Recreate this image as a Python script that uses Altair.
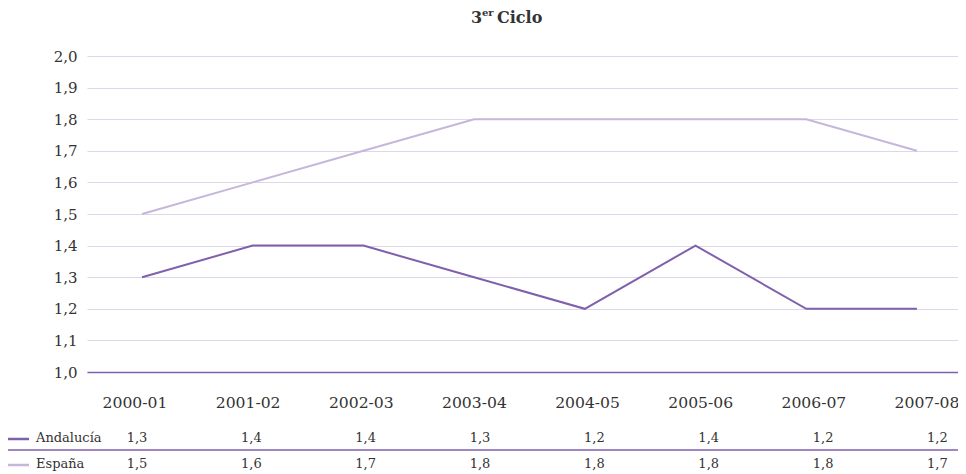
import altair as alt
import pandas as pd

periods = ["2000-01", "2001-02", "2002-03", "2003-04", "2004-05", "2005-06", "2006-07", "2007-08"]
andalucia = [1.3, 1.4, 1.4, 1.3, 1.2, 1.4, 1.2, 1.2]
espana = [1.5, 1.6, 1.7, 1.8, 1.8, 1.8, 1.8, 1.7]
series = ["Andalucía", "España"]
colors = ["#7f60ad", "#c5b7db"]
y_ticks = [1.0, 1.1, 1.2, 1.3, 1.4, 1.5, 1.6, 1.7, 1.8, 1.9, 2.0]

rows = []
for name, vals in zip(series, [andalucia, espana]):
    for i, (p, v) in enumerate(zip(periods, vals)):
        rows.append({"idx": i, "periodo": p, "serie": name, "valor": v,
                     "etiqueta": f"{v:.1f}".replace(".", ",")})
df = pd.DataFrame(rows)
per_df = pd.DataFrame({"idx": list(range(len(periods))), "periodo": periods})

FONT = "DejaVu Serif"
TXT = "#333333"
W, H = 871, 316

# three slightly different horizontal grids, as in the reference
line_scale = alt.Scale(domain=[-0.497, 7.371], nice=False, zero=False)
label_scale = alt.Scale(domain=[-0.424, 7.274], nice=False, zero=False)
table_scale = alt.Scale(domain=[-0.437, 7.18], nice=False, zero=False)
yscale = alt.Scale(domain=[1.0, 2.0], nice=False, zero=False)

base = alt.Chart(df)

lines = base.mark_line(strokeWidth=2).encode(
    x=alt.X("idx:Q", scale=line_scale,
            axis=alt.Axis(values=list(range(len(periods))), labels=False,
                          grid=False, ticks=False, domain=True,
                          domainColor="#7f60ad", domainWidth=1.5, title=None)),
    y=alt.Y("valor:Q", scale=yscale,
            axis=alt.Axis(values=y_ticks,
                          labelExpr="replace(format(datum.value, '.1f'), '.', ',')",
                          grid=True, gridColor="#ddd7ea", gridWidth=1.2,
                          ticks=False, domain=False,
                          labelFont=FONT, labelFontSize=15, labelColor=TXT,
                          labelPadding=10, title=None)),
    color=alt.Color("serie:N", scale=alt.Scale(domain=series, range=colors), legend=None),
    detail="serie:N",
)

xlabels = alt.Chart(per_df).mark_text(
    font=FONT, fontSize=15.6, color=TXT, baseline="middle").encode(
    x=alt.X("idx:Q", scale=label_scale, axis=None),
    y=alt.value(H + 31), text="periodo:N")

row_y = {"Andalucía": 382, "España": 408}

table_layers = []
for name, col in zip(series, colors):
    y = row_y[name]
    txt = base.transform_filter(alt.datum.serie == name).mark_text(
        font=FONT, fontSize=13, color=TXT, baseline="middle").encode(
        x=alt.X("idx:Q", scale=table_scale, axis=None), y=alt.value(y), text="etiqueta:N")
    sw = alt.Chart(pd.DataFrame({"serie": [name]})).mark_rule(
        color=col, strokeWidth=2.5).encode(
        x=alt.value(-79), x2=alt.value(-58), y=alt.value(y + 1))
    lab = alt.Chart(pd.DataFrame({"serie": [name]})).mark_text(
        font=FONT, fontSize=13, color=TXT, align="left", baseline="middle").encode(
        x=alt.value(-51), y=alt.value(y), text="serie:N")
    table_layers += [txt, sw, lab]

sep = alt.Chart(pd.DataFrame({"a": [0]})).mark_rule(
    color="#7f60ad", strokeWidth=1.5).encode(
    x=alt.value(-84), x2=alt.value(W), y=alt.value(394))

title_df = pd.DataFrame({"t1": ["3"], "t2": ["er"], "t3": ["Ciclo"]})
t1 = alt.Chart(title_df).mark_text(font=FONT, fontSize=16, fontWeight="bold",
                                   color=TXT, align="left", baseline="alphabetic").encode(
    x=alt.value(384), y=alt.value(-33), text="t1:N")
t2 = alt.Chart(title_df).mark_text(font=FONT, fontSize=10, fontWeight="bold",
                                   color=TXT, align="left", baseline="alphabetic").encode(
    x=alt.value(395), y=alt.value(-40), text="t2:N")
t3 = alt.Chart(title_df).mark_text(font=FONT, fontSize=16, fontWeight="bold",
                                   color=TXT, align="left", baseline="alphabetic").encode(
    x=alt.value(410), y=alt.value(-33), text="t3:N")

chart = alt.layer(lines, xlabels, *table_layers, sep, t1, t2, t3).resolve_scale(
    x="independent"
).properties(
    width=W, height=H,
    autosize=alt.AutoSizeParams(type="none"),
    padding={"left": 79, "top": 48, "right": 0, "bottom": 102},
).configure_view(stroke=None)

chart.save("out.html", embed_options={"renderer": "svg", "actions": False})
